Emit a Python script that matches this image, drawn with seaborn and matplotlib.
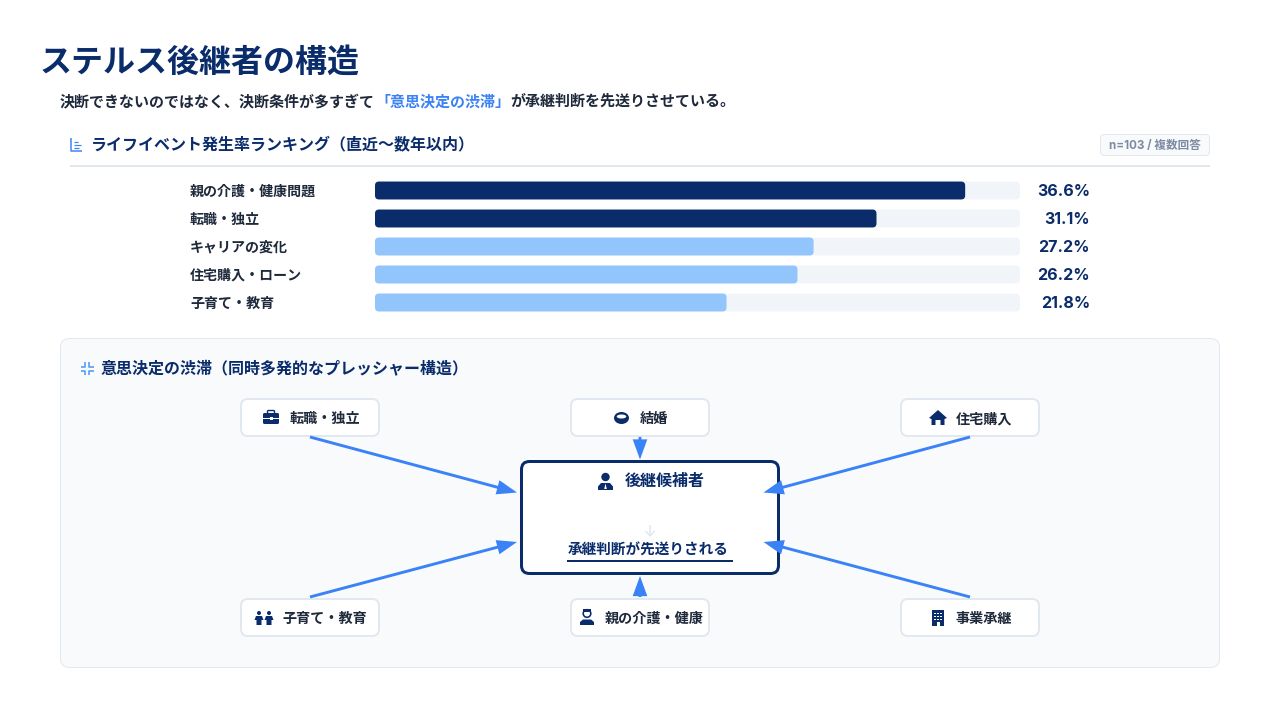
import matplotlib
matplotlib.use("Agg")
import matplotlib.pyplot as plt
import pandas as pd
import seaborn as sns
from matplotlib.patches import Circle, Ellipse, FancyArrowPatch, FancyBboxPatch, Polygon, Rectangle

# datos de la ranking
eventos = ["親の介護・健康問題", "転職・独立", "キャリアの変化", "住宅購入・ローン", "子育て・教育"]
tasas = [36.6, 31.1, 27.2, 26.2, 21.8]
grupos = ["alto", "alto", "resto", "resto", "resto"]
escala_max = [40, 40, 40, 40, 40]

# nodos del diagrama
nodos_arriba = ["転職・独立", "結婚", "住宅購入"]
nodos_abajo = ["子育て・教育", "親の介護・健康", "事業承継"]

NAVY = "#0A2C6B"
AZUL = "#3B82F6"
CLARO = "#93C5FD"
PISTA = "#F1F5F9"
BORDE = "#E2E8F0"
FONDO = "#F8FAFC"
TEXTO = "#1E293B"
FUENTE = ["Inter", "Noto Sans CJK JP", "DejaVu Sans"]

sns.set_theme(style="white")
plt.rcParams["font.family"] = FUENTE
PX = 0.72  # px -> pt a 100 dpi

fig = plt.figure(figsize=(12.8, 7.2), dpi=100, facecolor="white")

# capa de fondo en pixeles
ov = fig.add_axes([0, 0, 1, 1], zorder=0)
ov.set_xlim(0, 1280)
ov.set_ylim(720, 0)
ov.axis("off")


def caja(x0, y0, x1, y1, r, fc, ec, lw, z=2):
    ov.add_patch(FancyBboxPatch((x0, y0), x1 - x0, y1 - y0,
                                boxstyle=f"round,pad=0,rounding_size={r}",
                                fc=fc, ec=ec, lw=lw * PX, zorder=z))


def texto(x, y, s, px, color=TEXTO, weight="bold", ha="left", z=6):
    ov.text(x, y, s, fontsize=px * PX, color=color, fontweight=weight,
            ha=ha, va="center", zorder=z)


def linea(xs, ys, color, lw, z=6):
    ov.plot(xs, ys, color=color, lw=lw * PX, solid_capstyle="butt", zorder=z)


def flecha(x0, y0, x1, y1):
    ov.add_patch(FancyArrowPatch((x0, y0), (x1, y1), zorder=7, shrinkA=0, shrinkB=0, mutation_scale=10,
                                 arrowstyle="simple,head_length=1.45,head_width=1.05,tail_width=0.21",
                                 fc=AZUL, ec="none", lw=0))


# titulo y subtitulo
texto(40, 63, "ステルス後継者の構造", 32, NAVY)
texto(60, 102, "決断できないのではなく、決断条件が多すぎて", 15, TEXTO)
texto(375, 102, "「意思決定の渋滞」", 15, AZUL)
texto(510, 102, "が承継判断を先送りさせている。", 15, TEXTO)

# cabecera de la seccion
linea([71, 71, 82], [138, 151, 151], AZUL, 1.5)
for yy, xf in [(141.5, 78), (144.5, 81), (147.5, 79)]:
    linea([74, xf], [yy, yy], AZUL, 1.2)
texto(91, 145, "ライフイベント発生率ランキング（直近〜数年以内）", 16, NAVY)
caja(1100.5, 134.5, 1209.5, 155.5, 4, FONDO, BORDE, 1)
texto(1155, 145.5, "n=103 / 複数回答", 11.6, "#7C8BA1", ha="center")
linea([70, 1210], [166, 166], BORDE, 2)

# barras
ax = fig.add_axes([375 / 1280, (720 - 316.5) / 720, 645 / 1280, 140 / 720], zorder=3)
ax.patch.set_alpha(0)
df = pd.DataFrame({"evento": eventos, "tasa": tasas, "grupo": grupos, "max": escala_max})
sns.barplot(data=df, x="max", y="evento", color=PISTA, width=0.64, saturation=1, ax=ax)
sns.barplot(data=df, x="tasa", y="evento", hue="grupo", palette={"alto": NAVY, "resto": CLARO},
            dodge=False, width=0.64, saturation=1, legend=False, ax=ax)
ax.set_xlim(0, 40)
ax.set_xlabel("")
ax.set_ylabel("")
ax.set_xticks([])
sns.despine(ax=ax, left=True, bottom=True)
ax.tick_params(axis="y", length=0, pad=185 * PX, labelsize=14 * PX, labelcolor=TEXTO)
for lab in ax.get_yticklabels():
    lab.set_ha("left")
    lab.set_fontweight("bold")

# esquinas redondeadas conservando la geometria de cada barra
px_x = 645 / 40
px_y = 28
for barra in list(ax.patches):
    x, y, w, h = barra.get_x(), barra.get_y(), barra.get_width(), barra.get_height()
    color = barra.get_facecolor()
    barra.remove()
    ax.add_patch(FancyBboxPatch((x, y), w, h,
                                boxstyle=f"round,pad=0,rounding_size={4 / px_x}",
                                mutation_aspect=px_x / px_y, fc=color, ec="none"))
for i, v in enumerate(tasas):
    ax.text(715 / px_x, i + 0.04, f"{v}%", ha="right", va="center", color=NAVY,
            fontsize=16 * PX, fontweight="bold", clip_on=False)

# panel inferior
caja(60.5, 338.5, 1219.5, 667.5, 9, FONDO, BORDE, 1, z=1)
for cx, cy, dx, dy in [(85, 366.5, -1, -1), (89, 366.5, 1, -1), (85, 370.5, -1, 1), (89, 370.5, 1, 1)]:
    linea([cx + 4.5 * dx, cx, cx], [cy, cy, cy + 4.5 * dy], "#60A5FA", 1.8)
texto(101, 368, "意思決定の渋滞（同時多発的なプレッシャー構造）", 16, NAVY)

# nodos
for x0, s, tx in zip([240, 570, 900], nodos_arriba, [290, 640, 956]):
    caja(x0 + 1, 399, x0 + 139, 436, 7, "white", BORDE, 2)
    texto(tx, 419, s, 14.1)
for x0, s, tx in zip([240, 570, 900], nodos_abajo, [282.5, 605, 956]):
    caja(x0 + 1, 599, x0 + 139, 636, 7, "white", BORDE, 2)
    texto(tx, 619, s, 14.1)

# caja central
caja(521.5, 461.5, 778.5, 573.5, 8, "white", NAVY, 3, z=3)
texto(625, 481, "後継候補者", 16, NAVY)
linea([650, 650], [525, 535], BORDE, 1.5)
linea([645.5, 650, 654.5], [531, 536, 531], BORDE, 1.5)
texto(568, 550.5, "承継判断が先送りされる", 14.6, NAVY)
linea([567, 733], [561, 561], NAVY, 2)

# flechas
flecha(310, 437, 517, 492.5)
flecha(310, 597, 517, 542)
flecha(970, 437, 763.5, 492.5)
flecha(970, 597, 763.5, 542)
flecha(640, 437, 640, 459.5)
flecha(640, 597, 640, 576)

# iconos
caja(263, 413, 279, 424, 1.5, NAVY, "none", 0, z=5)
caja(267.5, 410.5, 274.5, 415, 1, "none", NAVY, 1.4, z=5)
ov.add_patch(Rectangle((263, 417.5), 16, 1, fc="white", ec="none", zorder=6))
ov.add_patch(Rectangle((269.5, 416.5), 3, 3, fc="white", ec="none", zorder=6))

ov.add_patch(Ellipse((621.5, 418), 15, 12, fc=NAVY, ec="none", zorder=5))
ov.add_patch(Ellipse((621.5, 416.5), 9.5, 4, fc="white", ec="none", zorder=6))

ov.add_patch(Polygon([(929, 418), (938, 410), (947, 418), (944.5, 419), (944.5, 425), (940.5, 425),
                      (940.5, 420), (935.5, 420), (935.5, 425), (931.5, 425), (931.5, 419)],
                     fc=NAVY, ec="none", zorder=5))

ov.add_patch(Circle((605.5, 477), 4.2, fc=NAVY, ec="none", zorder=5))
ov.add_patch(Polygon([(598, 490), (598, 486.5), (601, 483), (610, 483), (613, 486.5), (613, 490)],
                     fc=NAVY, ec="none", zorder=5))
ov.add_patch(Polygon([(605.5, 483.5), (606.8, 489), (604.2, 489)], fc="white", ec="none", zorder=6))

for cx in [259, 269]:
    ov.add_patch(Circle((cx, 613), 2, fc=NAVY, ec="none", zorder=5))
    ov.add_patch(Polygon([(cx - 4.5, 620), (cx - 3, 616), (cx + 3, 616), (cx + 4.5, 620), (cx + 2.5, 620),
                          (cx + 2.5, 625), (cx - 2.5, 625), (cx - 2.5, 620)], fc=NAVY, ec="none", zorder=5))

ov.add_patch(Circle((587, 613.5), 3.8, fc="white", ec=NAVY, lw=1.6 * PX, zorder=5))
ov.add_patch(Rectangle((583, 609), 8, 3, fc=NAVY, ec="none", zorder=6))
ov.add_patch(Polygon([(580, 625), (580, 622), (583, 619.5), (591, 619.5), (594, 622), (594, 625)],
                     fc=NAVY, ec="none", zorder=5))

ov.add_patch(Rectangle((932, 610), 12, 16, fc=NAVY, ec="none", zorder=5))
for fila in [612.5, 615.5, 618.5]:
    for col in [934, 937, 940]:
        ov.add_patch(Rectangle((col, fila), 1.8, 1.8, fc="white", ec="none", zorder=6))
ov.add_patch(Rectangle((936.5, 622), 3, 4, fc="white", ec="none", zorder=6))

plt.savefig("out.png", dpi=100)
